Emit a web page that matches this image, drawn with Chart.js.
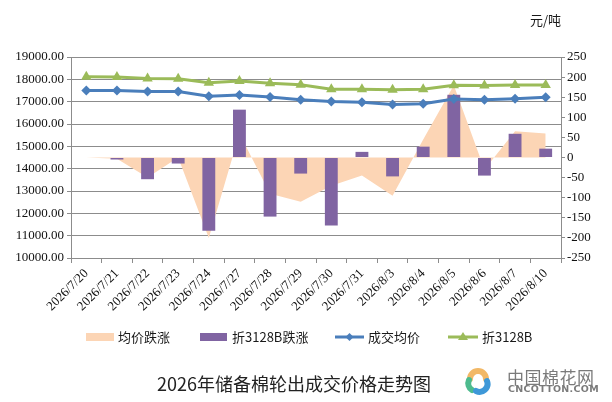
<!DOCTYPE html>
<html>
<head>
<meta charset="utf-8">
<script src="https://cdn.jsdelivr.net/npm/chart.js@4/dist/chart.umd.min.js"></script>
<style>
  html, body { margin: 0; padding: 0; background: #fff; }
  #wrap { position: relative; width: 612px; height: 402px; overflow: hidden; }
  #chart { position: absolute; left: 0; top: 0; }
  .txt { position: absolute; font-family: "Noto Sans CJK SC", sans-serif; color: #1a1a1a; white-space: nowrap; }
  #unit { left: 530px; top: 10px; font-size: 13px; }
  #legend { position: absolute; left: 0; top: 327px; width: 612px; height: 20px; font-family: "Noto Sans CJK SC", sans-serif; font-size: 13px; color: #1a1a1a; }
  .item { position: absolute; top: 0; height: 20px; line-height: 20px; white-space: nowrap; }
  .item svg { position: absolute; top: 0; left: 0; }
  .item span { position: absolute; top: 0; }
  #title { left: 157px; top: 370px; font-size: 18px; letter-spacing: 0px; color: #222; }
  #logoCn { left: 507px; top: 364px; font-size: 17px; color: #7a7a7a; letter-spacing: 0.5px; }
  #logoEn { left: 508px; top: 383px; font-size: 9.5px; font-weight: bold; color: #7a7a7a; font-family: "DejaVu Sans", sans-serif; letter-spacing: 0.3px; }
</style>
</head>
<body>
<div id="wrap">
  <canvas id="chart" width="612" height="402"></canvas>
  <div class="txt" id="unit">元/吨</div>
  <div id="legend"></div>
  <div class="txt" id="title">2026年储备棉轮出成交价格走势图</div>
  <svg style="position:absolute;left:463px;top:366px" width="30" height="30" viewBox="0 0 30 30">
    <path d="M7 13 A8 8 0 0 1 23 13" stroke="#f2b866" stroke-width="6" fill="none" stroke-linecap="round"/>
    <path d="M9 24 A8 8 0 0 1 6 14" stroke="#4dbb8e" stroke-width="6" fill="none" stroke-linecap="round"/>
    <path d="M24 15 A8 8 0 0 1 13 25" stroke="#3e98d8" stroke-width="6" fill="none" stroke-linecap="round"/>
  </svg>
  <div class="txt" id="logoCn">中国棉花网</div>
  <div class="txt" id="logoEn">CNCOTTON.COM</div>
</div>
<script>
// dates on the category axis
const dates = ["2026/7/20", "2026/7/21", "2026/7/22", "2026/7/23", "2026/7/24", "2026/7/27", "2026/7/28", "2026/7/29",
  "2026/7/30", "2026/7/31", "2026/8/3", "2026/8/4", "2026/8/5", "2026/8/6", "2026/8/7", "2026/8/10"];

// left axis: prices
const avgPrice = [17500, 17500, 17450, 17450, 17240, 17300, 17210, 17090, 17010, 16975, 16870, 16905, 17120, 17085, 17130, 17200];
const price3128B = [18120, 18100, 18040, 18030, 17850, 17925, 17820, 17760, 17560, 17560, 17535, 17560, 17740, 17720, 17745, 17750];

// right axis: daily changes
const avgChange = [0, -3, -50, 0, -200, 60, -90, -110, -70, -45, -95, 45, 180, -30, 65, 60];
const change3128B = [0, -5, -54, -15, -182, 119, -147, -40, -169, 14, -47, 27, 156, -45, 59, 22];

const leftMin = 10000, leftMax = 19000, leftStep = 1000;
const rightMin = -250, rightMax = 250, rightStep = 50;

const names = ["均价跌涨", "折3128B跌涨", "成交均价", "折3128B"];
const colors = { area: "#fcd5b5", bar: "#8064a2", blue: "#4a7ebb", green: "#9bbb59" };

const gridGrey = "#8c8c8c";
const tickFont = { family: "Liberation Serif", size: 13 };

new Chart(document.getElementById("chart").getContext("2d"), {
  type: "bar",
  data: {
    labels: dates,
    datasets: [
      {
        type: "line", label: names[0], data: avgChange, yAxisID: "y1",
        fill: "origin", backgroundColor: colors.area, borderWidth: 0, borderColor: colors.area,
        pointRadius: 0, tension: 0, order: 4
      },
      {
        type: "bar", label: names[1], data: change3128B, yAxisID: "y1",
        backgroundColor: colors.bar, barPercentage: 0.42, categoryPercentage: 1, order: 3
      },
      {
        type: "line", label: names[2], data: avgPrice, yAxisID: "y",
        borderColor: colors.blue, backgroundColor: colors.blue, borderWidth: 3,
        pointStyle: "rectRot", pointRadius: 5, pointBorderWidth: 0, fill: false, tension: 0, order: 2
      },
      {
        type: "line", label: names[3], data: price3128B, yAxisID: "y",
        borderColor: colors.green, backgroundColor: colors.green, borderWidth: 3,
        pointStyle: "triangle", pointRadius: 6, pointBorderWidth: 0, fill: false, tension: 0, order: 1
      }
    ]
  },
  options: {
    responsive: false,
    animation: false,
    devicePixelRatio: 1,
    layout: { padding: { top: 57, left: 0, right: 0, bottom: 0 } },
    plugins: { legend: { display: false }, tooltip: { enabled: false } },
    scales: {
      x: {
        offset: true,
        grid: { offset: true, drawOnChartArea: false, drawTicks: true, tickLength: 5, color: gridGrey },
        border: { display: true, color: gridGrey },
        ticks: { color: "#111", font: tickFont, minRotation: 45, maxRotation: 45, padding: 3, autoSkip: false },
        afterFit(scale) { scale.height = 144; }
      },
      y: {
        position: "left", min: leftMin, max: leftMax,
        grid: { color: gridGrey, tickLength: 4 },
        border: { display: true, color: gridGrey },
        ticks: { stepSize: leftStep, color: "#111", font: tickFont, padding: 3, callback: v => v.toFixed(2) },
        afterFit(scale) { scale.width = 71; }
      },
      y1: {
        position: "right", min: rightMin, max: rightMax,
        grid: { drawOnChartArea: false, color: gridGrey, tickLength: 4 },
        border: { display: true, color: gridGrey },
        ticks: { stepSize: rightStep, color: "#111", font: tickFont, padding: 2 },
        afterFit(scale) { scale.width = 51; }
      }
    }
  }
});

// legend, Excel style: box for area/bar, line + marker for the lines
const legendItems = [
  { x: 86, w: 28, kind: "box", color: colors.area, textX: 118 },
  { x: 200, w: 27, kind: "box", color: colors.bar, textX: 232 },
  { x: 335, w: 29, kind: "diamond", color: colors.blue, textX: 368 },
  { x: 448, w: 30, kind: "triangle", color: colors.green, textX: 482 }
];
const legend = document.getElementById("legend");
legendItems.forEach((it, i) => {
  const div = document.createElement("div");
  div.className = "item";
  div.style.left = it.x + "px";
  let mark;
  const c = it.w / 2;
  if (it.kind === "box") {
    mark = `<rect x="0" y="6" width="${it.w}" height="8" fill="${it.color}"/>`;
  } else if (it.kind === "diamond") {
    mark = `<line x1="0" y1="10" x2="${it.w}" y2="10" stroke="${it.color}" stroke-width="3"/>` +
      `<polygon points="${c},6 ${c + 4},10 ${c},14 ${c - 4},10" fill="${it.color}"/>`;
  } else {
    mark = `<line x1="0" y1="10" x2="${it.w}" y2="10" stroke="${it.color}" stroke-width="3"/>` +
      `<polygon points="${c},5 ${c + 5},13 ${c - 5},13" fill="${it.color}"/>`;
  }
  div.innerHTML = `<svg width="${it.w}" height="20">${mark}</svg><span style="left:${it.textX - it.x}px">${names[i]}</span>`;
  legend.appendChild(div);
});
</script>
</body>
</html>
